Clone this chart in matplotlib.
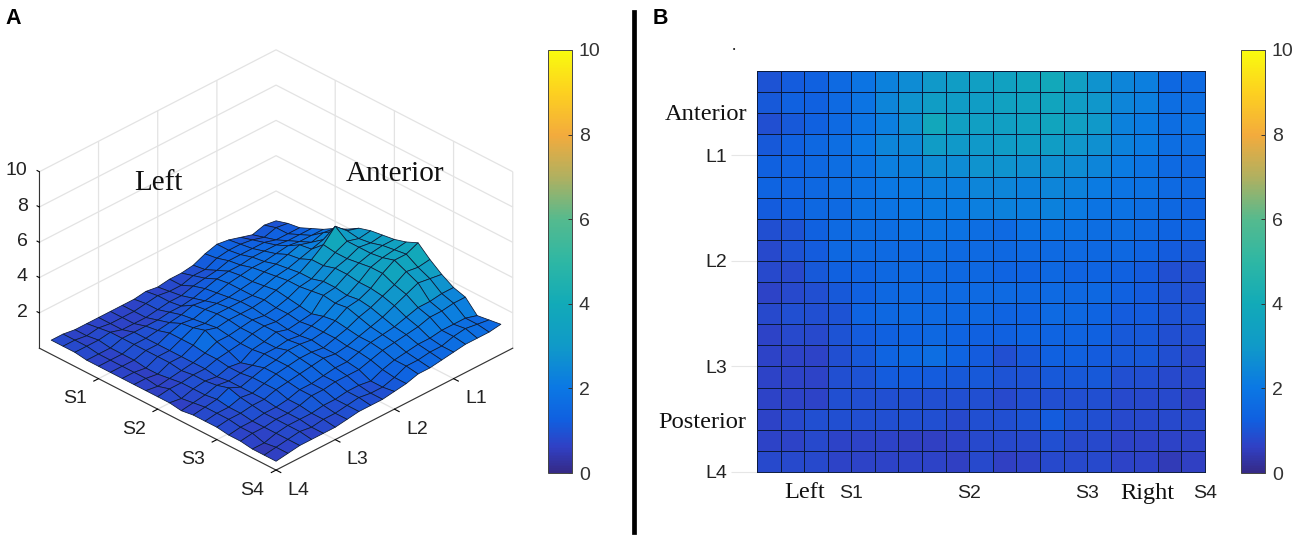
import matplotlib
matplotlib.use("Agg")
import matplotlib.pyplot as plt
import numpy as np
from matplotlib.colors import LinearSegmentedColormap, Normalize
from matplotlib.cm import ScalarMappable
from mpl_toolkits.mplot3d import proj3d

W, H = 1300, 544

row_01 = [1.0,1.2,1.3,1.6,1.9,2.3,2.6,3.0,3.2,3.3,3.4,3.6,3.9,3.3,2.8,2.4,2.2,1.5,1.6,1.7]
row_02 = [1.1,1.3,1.3,1.6,1.9,2.4,2.8,3.2,3.1,3.2,3.4,3.5,3.6,3.2,2.9,2.4,2.2,1.7,1.7,1.6]
row_03 = [0.9,1.1,1.3,1.6,1.9,2.2,2.7,3.8,3.3,3.3,3.3,3.4,3.6,3.3,3.0,2.3,2.1,1.7,1.8,1.6]
row_04 = [1.1,1.3,1.5,1.7,2.0,2.4,2.5,3.1,3.0,3.0,3.1,3.2,3.2,2.9,2.7,2.3,2.1,1.7,1.7,1.6]
row_05 = [1.3,1.4,1.5,1.7,1.9,2.2,2.3,2.6,2.6,2.8,2.8,2.7,2.7,2.6,2.4,2.1,1.9,1.6,1.5,1.5]
row_06 = [1.4,1.4,1.5,1.7,1.8,2.0,2.1,2.2,2.2,2.4,2.4,2.3,2.4,2.3,2.1,1.9,1.8,1.6,1.5,1.4]
row_07 = [1.2,1.3,1.5,1.6,1.8,1.9,2.0,2.1,2.1,2.2,2.3,2.2,2.3,2.1,1.9,1.8,1.7,1.5,1.4,1.3]
row_08 = [0.9,1.0,1.3,1.6,1.7,1.7,1.8,1.9,1.8,1.7,1.6,1.8,1.9,1.8,1.7,1.7,1.6,1.4,1.4,1.3]
row_09 = [0.8,1.0,1.2,1.5,1.6,1.6,1.6,1.7,1.6,1.6,1.5,1.6,1.6,1.6,1.5,1.5,1.4,1.2,1.1,1.1]
row_10 = [0.8,0.8,1.1,1.3,1.4,1.5,1.6,1.6,1.5,1.5,1.4,1.4,1.5,1.4,1.4,1.3,1.2,0.9,0.9,1.0]
row_11 = [0.7,0.8,0.9,1.1,1.3,1.5,1.6,1.6,1.6,1.6,1.6,1.5,1.6,1.5,1.5,1.3,1.2,1.0,0.9,0.9]
row_12 = [0.8,0.9,0.9,1.0,1.4,1.5,1.6,1.6,1.5,1.5,1.4,1.4,1.6,1.5,1.4,1.2,1.2,1.0,1.0,0.9]
row_13 = [0.7,0.8,0.8,1.0,1.2,1.3,1.4,1.5,1.4,1.3,1.3,1.4,1.4,1.4,1.3,1.1,1.1,0.9,0.9,0.9]
row_14 = [0.7,0.7,0.7,0.9,1.1,1.4,1.5,1.7,1.4,1.2,0.9,1.1,1.3,1.3,1.2,1.1,1.1,0.9,0.8,0.8]
row_15 = [0.7,0.7,0.7,0.9,1.0,1.2,1.2,1.2,1.1,1.1,1.0,1.0,1.1,1.1,1.1,0.9,0.9,0.8,0.8,0.7]
row_16 = [0.7,0.7,0.7,0.9,0.9,0.9,0.9,0.9,0.9,0.9,0.8,0.9,0.9,0.9,0.9,0.8,0.8,0.8,0.7,0.7]
row_17 = [0.7,0.8,0.9,0.9,0.9,0.9,0.9,0.9,0.8,0.9,0.9,1.0,1.2,1.0,0.9,0.8,0.8,0.8,0.8,0.7]
row_18 = [0.7,0.7,0.8,0.7,0.7,0.7,0.6,0.6,0.7,0.8,0.8,0.8,0.9,0.8,0.8,0.7,0.7,0.7,0.7,0.7]
row_19 = [0.8,0.8,0.8,0.7,0.7,0.7,0.7,0.7,0.6,0.8,0.6,0.7,0.8,0.8,0.8,0.7,0.7,0.5,0.6,0.6]
row_20 = [0.8,0.8,0.8,0.7,0.7,0.7,0.7,0.7,0.7,0.7,0.7,0.6,0.7,0.7,0.7,0.6,0.6,0.5,0.5,0.5]

s_ticks = [5, 10, 15, 20]
s_labels = ["S1", "S2", "S3", "S4"]
l_ticks = [5, 10, 15, 20]
l_labels = ["L1", "L2", "L3", "L4"]
z_ticks = [2, 4, 6, 8, 10]
z_labels = ["2", "4", "6", "8", "10"]
cbar_ticks = [0, 2, 4, 6, 8, 10]
cmap_stops = [0, 0.06, 0.125, 0.2, 0.3, 0.4, 0.5, 0.6, 0.7, 0.8, 0.9, 1]
cmap_colors = ['#352a87','#3040c4','#1060e0','#0b78e4','#109ac8','#12aab8','#2eb7a4','#55ba8e','#b0b060','#f3ab3d','#fdd020','#f9fb0e']

Z = np.array([row_01,row_02,row_03,row_04,row_05,row_06,row_07,row_08,row_09,row_10,
              row_11,row_12,row_13,row_14,row_15,row_16,row_17,row_18,row_19,row_20])
x = np.arange(1, Z.shape[1] + 1)
y = np.arange(1, Z.shape[0] + 1)
X, Y = np.meshgrid(x, y)

plt.rcParams['font.family'] = ['Liberation Sans', 'DejaVu Sans']
cmap = LinearSegmentedColormap.from_list("parula_like", list(zip(cmap_stops, cmap_colors)), N=256)
norm = Normalize(0, 10)
fig = plt.figure(figsize=(W / 100, H / 100), dpi=100)

def rect(x0, y0, x1, y1):
    return [x0 / W, 1 - y1 / H, (x1 - x0) / W, (y1 - y0) / H]

def ftext(px, py, s, **kw):
    fig.text(px / W, 1 - py / H, s, **kw)

# Panel A
ax3 = fig.add_axes(rect(-7, 6, 545, 528), projection='3d')
ax3.set_proj_type('ortho')
ax3.view_init(elev=31, azim=-45)
ax3.set_box_aspect((1, 1, 0.615), zoom=0.96)
ax3.patch.set_alpha(0)
ax3.set_xlim(0, 20)
ax3.set_ylim(20, 0)
ax3.set_zlim(0, 10)
ax3.plot_surface(X, Y, Z, facecolors=cmap(norm(Z[:-1, :-1])), rstride=1, cstride=1,
                 shade=False, edgecolor='#0c1a34', linewidth=0.55, antialiased=True)
ax3.set_xticks(s_ticks)
ax3.set_yticks(l_ticks)
ax3.set_zticks(z_ticks)
ax3.xaxis.set_ticklabels([])
ax3.yaxis.set_ticklabels([])
ax3.zaxis.set_ticklabels([])
ax3.zaxis.set_ticks_position('upper')
for a in (ax3.xaxis, ax3.yaxis, ax3.zaxis):
    a.set_pane_color((1, 1, 1, 0))
    a.pane.set_edgecolor('#e0e0e0')
    a.line.set_color('#333333')
    a.line.set_linewidth(0.8)
    a._axinfo['grid']['color'] = '#e3e3e3'
    a._axinfo['grid']['linewidth'] = 0.9
    a._axinfo['tick']['inward_factor'] = 0.25
    a._axinfo['tick']['outward_factor'] = 0.0
ax3.zaxis._axinfo['tick']['inward_factor'] = 0.0
ax3.zaxis._axinfo['tick']['outward_factor'] = 0.12

label3d = dict(fontsize=14, color='#222222', transform=ax3.transData)
proj = ax3.get_proj()

def label_at(px, py, pz, s, ha):
    u, v, _ = proj3d.proj_transform(px, py, pz, proj)
    ax3.text2D(u, v, s, ha=ha, va='center', **label3d)

for t, s in zip(s_ticks, s_labels):
    label_at(t, 22.0, -0.45, s, 'center')
for t, s in zip(l_ticks, l_labels):
    label_at(21.9, t, -0.48, s, 'center')
for t, s in zip(z_ticks, z_labels):
    label_at(-0.5, 20.5, t + 0.05, s, 'right')

# Panel B
axb = fig.add_axes(rect(757, 71, 1205, 472))
axb.pcolormesh(x, y, Z[:-1, :-1], cmap=cmap, norm=norm, edgecolors='#0b1a3c', linewidth=0.6)
axb.set_xlim(1, 20)
axb.set_ylim(20, 1)
axb.set_xticks(s_ticks, s_labels)
axb.set_yticks(l_ticks, l_labels)
axb.tick_params(axis='x', length=0, labelsize=14, colors='#222222', pad=9)
axb.tick_params(axis='y', length=18.5, width=0.8, color='#e6e6e6', labelsize=14, labelcolor='#222222', pad=3)
axb.yaxis.get_major_ticks()[3].tick1line.set_color('#333333')
for sp in axb.spines.values():
    sp.set_linewidth(0.7)
    sp.set_color('#0b1a3c')

# Colorbars
for x0, x1 in ((548, 572), (1241, 1265)):
    cax = fig.add_axes(rect(x0, 50, x1, 473))
    cb = fig.colorbar(ScalarMappable(norm=norm, cmap=cmap), cax=cax)
    cb.set_ticks(cbar_ticks)
    cb.ax.tick_params(labelsize=14, direction='in', length=3, width=0.7, colors='#333333', pad=5)
    cb.outline.set_linewidth(0.7)
    cb.outline.set_edgecolor('#444444')

# Divider and annotations
fig.add_artist(plt.Line2D([634 / W, 634 / W], [1 - 12 / H, 1 - 532 / H], color='black', lw=3.4))
ftext(5.5, 18, "A", fontsize=15.5, fontweight='bold', color='black', va='center')
ftext(653, 18, "B", fontsize=15.5, fontweight='bold', color='black', va='center')
serif = dict(family=['Liberation Serif', 'DejaVu Serif'], color='#111111', va='center')
ftext(134, 183, "Left", fontsize=21, **serif)
ftext(346, 174, "Anterior", fontsize=21, **serif)
ftext(665, 114, "Anterior", fontsize=17.6, **serif)
ftext(658, 422, "Posterior", fontsize=17.6, **serif)
ftext(784, 493, "Left", fontsize=17.6, **serif)
ftext(1120, 493, "Right", fontsize=17.6, **serif)
ftext(732, 46, ".", fontsize=12, **serif)

fig.savefig("out.png", dpi=100)
